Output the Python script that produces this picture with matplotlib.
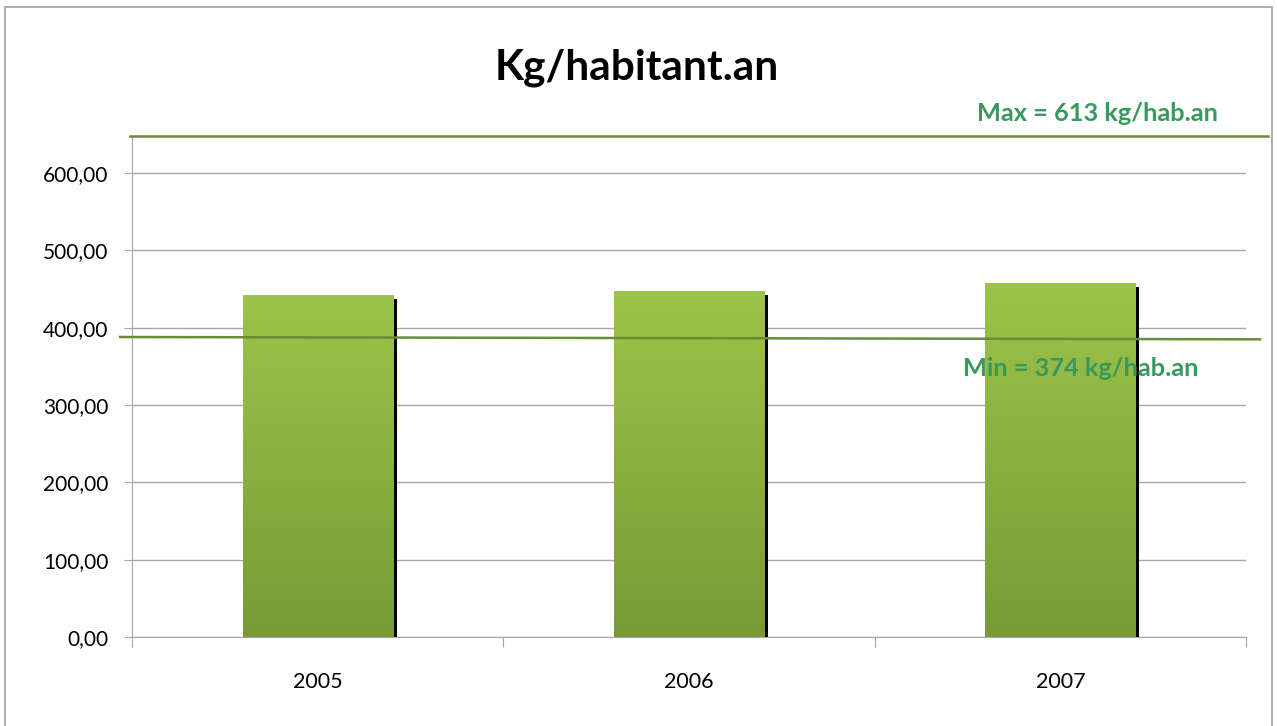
import matplotlib.pyplot as plt
import numpy as np
from matplotlib.colors import LinearSegmentedColormap
from matplotlib.patches import Rectangle
from matplotlib.ticker import FuncFormatter, FixedLocator

years = ["2005", "2006", "2007"]
kg_per_hab = [442, 447, 458]
y_ticks = [0, 100, 200, 300, 400, 500, 600]

max_label = "Max = 613 kg/hab.an"
min_label = "Min = 374 kg/hab.an"
# levels at which the reference lines are drawn in the picture
max_line_level = 648
min_line_level = [388, 385]

green_txt = "#37995C"
line_col = "#6B8C35"
grid_col = "#A6A6A6"

plt.rcParams['font.family'] = ['Lato', 'DejaVu Sans']

fig = plt.figure(figsize=(12.77, 7.26), dpi=100)
ax = fig.add_axes([0.1034, 0.1226, 0.8723, 0.6901])

x = np.arange(len(years))
w = 0.404

# black shadow behind each bar
ax.bar(x + 0.011, [v - 5 for v in kg_per_hab], width=w, color="black", zorder=2)
bars = ax.bar(x, kg_per_hab, width=w, color="none", zorder=3)

cmap = LinearSegmentedColormap.from_list("g", ["#789A36", "#9DC44A"])
grad = np.linspace(0, 1, 256).reshape(-1, 1)
for b in bars:
    x0, y0 = b.get_x(), b.get_y()
    im = ax.imshow(grad, cmap=cmap, origin="lower", aspect="auto",
                   extent=[x0, x0 + b.get_width(), y0, y0 + b.get_height()], zorder=3)
    im.set_clip_path(b)

ax.set_xlim(-0.5, 2.5)
ax.set_ylim(0, max_line_level)

ax.set_yticks(y_ticks)
ax.yaxis.set_major_formatter(FuncFormatter(lambda v, p: f"{v:.2f}".replace(".", ",")))
ax.yaxis.grid(True, color=grid_col, linewidth=1)
ax.set_axisbelow(True)

ax.xaxis.set_major_locator(FixedLocator([-0.5, 0.5, 1.5, 2.5]))
ax.xaxis.set_major_formatter(FuncFormatter(lambda v, p: ""))
ax.xaxis.set_minor_locator(FixedLocator(list(x)))
ax.set_xticklabels(years, minor=True)
ax.tick_params(axis="x", which="minor", length=0, pad=25, labelsize=15.5)
ax.tick_params(axis="x", which="major", length=7, color=grid_col, direction="out")
ax.tick_params(axis="y", length=6, color=grid_col, labelsize=15, pad=11)

for s in ["top", "right"]:
    ax.spines[s].set_visible(False)
for s in ["left", "bottom"]:
    ax.spines[s].set_color(grid_col)

# reference lines, running past the plot area like in the original
ax.plot([-0.505, 2.56], [max_line_level, max_line_level], color=line_col,
        linewidth=1.8, clip_on=False, zorder=4)
ax.plot([-0.532, 2.538], min_line_level, color=line_col,
        linewidth=1.8, clip_on=False, zorder=4)

fig.text(0.859, 0.844, max_label, color=green_txt, fontsize=18.3, fontweight="bold",
         ha="center", va="center")
fig.text(0.846, 0.492, min_label, color=green_txt, fontsize=18.3, fontweight="bold",
         ha="center", va="center", zorder=5)

fig.text(0.499, 0.907, "Kg/habitant.an", fontsize=30.5, fontweight="bold",
         ha="center", va="center")

fig.patches.append(Rectangle((0.004, -0.01), 0.992, 1.0, transform=fig.transFigure,
                             fill=False, edgecolor="#A0A0A0", linewidth=1.2))

fig.savefig("out.png", dpi=100)
